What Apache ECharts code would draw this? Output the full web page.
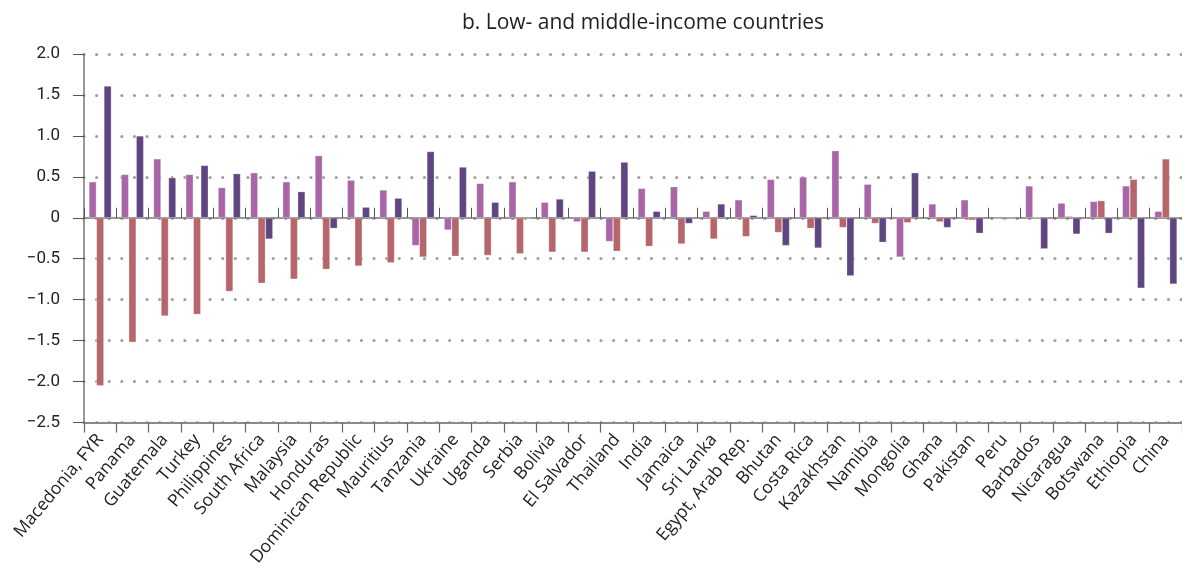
<!DOCTYPE html>
<html>
<head>
<meta charset="utf-8">
<script src="https://cdn.jsdelivr.net/npm/echarts@6/dist/echarts.min.js"></script>
<style>
  html, body { margin: 0; padding: 0; background: #fff; }
  #chart { width: 1182px; height: 569px; }
</style>
</head>
<body>
<div id="chart"></div>
<script>
// countries, ordered as in the figure
const countries = ['Macedonia, FYR', 'Panama', 'Guatemala', 'Turkey', 'Philippines', 'South Africa',
  'Malaysia', 'Honduras', 'Dominican Republic', 'Mauritius', 'Tanzania', 'Ukraine', 'Uganda',
  'Serbia', 'Bolivia', 'El Salvador', 'Thailand', 'India', 'Jamaica', 'Sri Lanka',
  'Egypt, Arab Rep.', 'Bhutan', 'Costa Rica', 'Kazakhstan', 'Namibia', 'Mongolia', 'Ghana',
  'Pakistan', 'Peru', 'Barbados', 'Nicaragua', 'Botswana', 'Ethiopia', 'China']

// three series (left, middle, right bar of each group)
const seriesPink = [0.44, 0.53, 0.72, 0.53, 0.37, 0.55, 0.44, 0.76, 0.46, 0.34, -0.34, -0.15, 0.42,
  0.44, 0.19, -0.05, -0.29, 0.36, 0.38, 0.08, 0.22, 0.47, 0.50, 0.82, 0.41, -0.48, 0.17,
  0.22, -0.01, 0.39, 0.18, 0.20, 0.39, 0.08]
const seriesRed = [-2.05, -1.52, -1.20, -1.18, -0.90, -0.80, -0.75, -0.63, -0.59, -0.55, -0.48, -0.47, -0.46,
  -0.44, -0.42, -0.42, -0.41, -0.35, -0.32, -0.26, -0.23, -0.18, -0.13, -0.12, -0.07, -0.06, -0.05,
  -0.03, -0.02, 0.0, 0.02, 0.21, 0.47, 0.72]
const seriesPurple = [1.61, 1.0, 0.49, 0.64, 0.54, -0.26, 0.32, -0.13, 0.13, 0.24, 0.81, 0.62, 0.19,
  -0.01, 0.23, 0.57, 0.68, 0.08, -0.07, 0.17, 0.03, -0.34, -0.37, -0.71, -0.30, 0.55, -0.12,
  -0.19, -0.01, -0.38, -0.20, -0.19, -0.86, -0.81]

const titleText = 'b. Low- and middle-income countries'
const fontName = '"Open Sans", Lato, sans-serif'

const chart = echarts.init(document.getElementById('chart'))

const barStyle = (color) => ({
  type: 'bar',
  barWidth: 7.5,
  barGap: '0%',
  itemStyle: { color: color, borderColor: 'rgba(255,255,255,0.45)', borderWidth: 0.6 }
})

chart.setOption({
  animation: false,
  textStyle: { fontFamily: fontName },
  title: {
    text: titleText,
    left: 638,
    textAlign: 'center',
    top: 8,
    textStyle: { fontFamily: fontName, fontSize: 21, fontWeight: 'normal', color: '#222' }
  },
  grid: { left: 84, right: -4, top: 54, bottom: 145 },
  xAxis: [
    {
      type: 'category',
      data: countries,
      position: 'bottom',
      axisLine: { onZero: false, lineStyle: { color: '#8a8a8a', width: 2 } },
      axisTick: { show: true, interval: 0, length: 10, lineStyle: { color: '#666', width: 1.2 } },
      axisLabel: {
        interval: 0, rotate: 50, margin: 14,
        fontFamily: fontName, fontSize: 17.5, color: '#222'
      },
      splitLine: { show: false }
    },
    {
      type: 'category',
      data: countries,
      position: 'top',
      axisLine: { onZero: true, lineStyle: { color: '#777', width: 1.5 } },
      axisTick: { show: true, interval: 0, length: 10, lineStyle: { color: '#555' } },
      axisLabel: { show: false },
      splitLine: { show: false }
    }
  ],
  yAxis: {
    type: 'value',
    min: -2.5,
    max: 2.0,
    interval: 0.5,
    axisLine: { show: true, lineStyle: { color: '#777', width: 1.5 } },
    axisTick: { show: true, length: 11, lineStyle: { color: '#555' } },
    axisLabel: {
      margin: 24,
      fontFamily: 'Roboto, sans-serif', fontSize: 17, color: '#222',
      formatter: (v) => v === 0 ? '0' : v.toFixed(1).replace('-', '\u2212')
    },
    splitLine: {
      show: true,
      lineStyle: { color: '#a0a0a0', width: 3.2, type: [0.01, 12.6], cap: 'round' }
    }
  },
  series: [
    Object.assign({ name: 'a', data: seriesPink }, barStyle('#a866a6')),
    Object.assign({ name: 'b', data: seriesRed }, barStyle('#b6656a')),
    Object.assign({ name: 'c', data: seriesPurple }, barStyle('#5f4680'))
  ]
})
</script>
</body>
</html>
